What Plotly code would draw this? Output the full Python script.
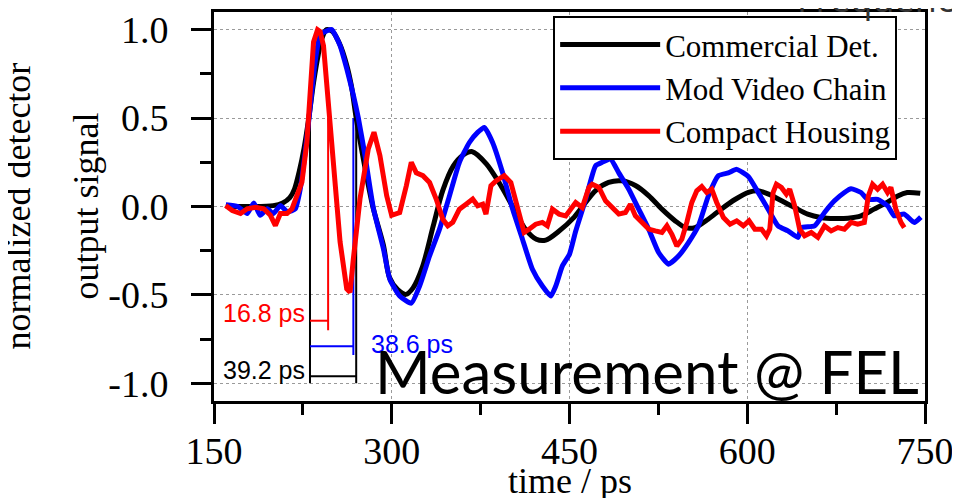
import plotly.graph_objects as go

# Commercial detector (black)
t_comm = [160, 180, 200, 208, 214, 218, 222, 226, 230, 234, 238, 241, 245, 250, 256, 262, 266, 270,
          276, 284, 293, 298, 305, 312, 318, 326, 335, 343, 352, 360, 368, 380, 391, 402, 413, 422,
          430, 441, 454, 461, 472, 483, 494, 506, 517, 528, 539, 548, 556, 567, 578, 590, 601, 609,
          618, 629, 640, 651, 662, 674, 685, 696, 707, 718, 727, 735, 746]
s_comm = [0.0, 0.0, 0.005, 0.02, 0.05, 0.1, 0.2, 0.33, 0.5, 0.7, 0.86, 0.95, 1.0, 0.99, 0.92, 0.8, 0.68, 0.5,
          0.27, 0.0, -0.22, -0.4, -0.47, -0.497, -0.46, -0.34, -0.11, 0.09, 0.23, 0.29, 0.31, 0.24, 0.13, 0.0, -0.13, -0.185,
          -0.19, -0.14, -0.06, 0.0, 0.09, 0.136, 0.145, 0.117, 0.06, -0.015, -0.08, -0.12, -0.119, -0.072, -0.015, 0.041, 0.08, 0.089,
          0.07, 0.032, -0.006, -0.043, -0.062, -0.068, -0.066, -0.053, -0.015, 0.023, 0.06, 0.079, 0.075]

# Modified video chain (blue)
t_mod = [160, 170, 178, 183.6, 189, 195, 200, 206, 212, 218.6, 222.8, 227, 231, 235.4, 239.6, 244, 249.4, 253,
         256.4, 262, 267.6, 271.8, 277.4, 284.5, 293, 298.3, 306.7, 316.5, 323.5, 331.9, 340.3, 348.7, 357.1,
         365.5, 372.5, 378.1, 385.1, 393.5, 402, 410.3, 418.7, 427.1, 434.2, 438.4, 444, 450, 455.2, 463.6,
         472, 477.6, 484.6, 491.6, 500, 508.4, 516.8, 525.2, 533.6, 542, 550.4, 558.8, 567.2, 575.6, 584,
         591.1, 600.9, 609.2, 617.6, 626, 634.4, 642.8, 645.6, 656.8, 665.2, 673.6, 682, 687.6, 696, 701.6,
         710, 718.4, 724, 732.5, 740.9, 746.5]
s_mod = [0.01, 0.0, -0.04, 0.02, -0.05, -0.013, -0.04, 0.005, -0.03, -0.013, 0.1, 0.31, 0.55, 0.82, 0.97, 0.99, 1.0, 0.96,
         0.91, 0.78, 0.63, 0.5, 0.29, -0.01, -0.24, -0.41, -0.506, -0.547, -0.45, -0.28, -0.128, 0.06, 0.25,
         0.362, 0.419, 0.447, 0.362, 0.192, -0.015, -0.185, -0.355, -0.45, -0.506, -0.45, -0.336, -0.27, -0.14, 0.04,
         0.23, 0.25, 0.268, 0.19, 0.098, -0.015, -0.128, -0.26, -0.326, -0.28, -0.204, -0.109, 0.06, 0.174, 0.19,
         0.21, 0.17, 0.08, -0.015, -0.11, -0.138, -0.175, -0.12, -0.11, -0.034, 0.032, 0.079, 0.1, 0.079, 0.04,
         0.04, 0.004, -0.053, -0.043, -0.09, -0.06]

# Compact housing (red)
t_cmp = [159.8, 165.4, 172.4, 178, 185, 192, 197.6, 201.8, 206, 211.6, 215.8, 220, 224.2, 228.4, 231.2, 234,
         237.4, 239.5, 242.4, 246.6, 250.8, 256.4, 262, 264.8, 267.6, 273.2, 280.2, 285, 290, 295.7, 299.9,
         306.7, 312.3, 316.5, 320.7, 326.3, 331.9, 337.5, 343.1, 347.3, 351.5, 357.1, 362.7, 368.3, 372.5,
         376.7, 379.5, 383.7, 387.9, 394.9, 400.5, 406.1, 411.7, 415.9, 421.5, 427.1, 431.3, 435.6, 441.2,
         446.8, 451, 455.2, 460.8, 466.4, 469.2, 474.8, 480.4, 486, 491.6, 497.2, 501.4, 505.6, 511.2, 516.8,
         522.4, 528, 532.2, 536.4, 540.6, 544.8, 549, 553.2, 557.4, 561.6, 565.8, 570, 574.2, 579.9, 585.5,
         591.1, 596.7, 601.5, 606.4, 612, 616.2, 619, 621.8, 624.6, 628.8, 633, 635.8, 640, 644.2, 648.4,
         654, 659.6, 665.2, 670.8, 676.4, 682, 687.6, 693.2, 698.8, 702.2, 705.8, 710, 714.2, 718.4, 721.2,
         725.4, 729.7, 732.5]
s_cmp = [0.006, -0.023, -0.04, -0.013, -0.004, -0.013, -0.05, -0.108, -0.04, -0.04, -0.013, 0.062, 0.138, 0.364, 0.647, 0.93,
         1.0, 0.99, 0.91, 0.553, 0.213, -0.2, -0.466, -0.485, -0.296, 0.043, 0.326, 0.42, 0.289, 0.062, -0.05,
         -0.034, 0.117, 0.25, 0.19, 0.174, 0.136, 0.042, -0.072, -0.109, -0.09, -0.015, 0.013, 0.042, 0.004,
         0.013, -0.043, 0.117, 0.145, 0.174, 0.136, -0.015, -0.147, -0.128, -0.1, -0.09, -0.109, -0.015, -0.043,
         -0.053, -0.02, 0.023, -0.006, 0.108, 0.126, 0.108, 0.032, -0.006, -0.043, -0.034, 0.013, -0.053, -0.09, -0.128,
         -0.138, -0.147, -0.109, -0.157, -0.223, -0.185, -0.09, 0.023, 0.089, 0.113, 0.079, 0.098, 0.023, -0.062, -0.1,
         -0.081, -0.109, -0.081, -0.128, -0.128, -0.166, -0.128, 0.079, 0.126, 0.108, 0.07, 0.098, 0.004, -0.128, -0.166,
         -0.147, -0.175, -0.11, -0.138, -0.119, -0.128, -0.09, -0.1, -0.09, 0.06, 0.126, 0.098, 0.126, 0.079, 0.108,
         -0.015, -0.09, -0.119]

# pulse width markers (FWHM)
fwhm_labels = ['39.2 ps', '38.6 ps', '16.8 ps']
fwhm_left = 231.0
fwhm_right = [270.0, 267.6, 246.3]
fwhm_level = [-0.96, -0.79, -0.646]
fwhm_drop = [-1.0, -0.84, -0.70]
half_max = 0.5

x_ticks = [150, 300, 450, 600, 750]
y_ticks = [-1.0, -0.5, 0.0, 0.5, 1.0]
y_tick_labels = ['-1.0', '-0.5', '0.0', '0.5', '1.0']

SERIF = 'Liberation Serif'
SANS = 'Liberation Sans'

fig = go.Figure()

# bracket lines for the pulse widths
# black bracket: two verticals + horizontal
fig.add_trace(go.Scatter(
    x=[fwhm_left, fwhm_left, None, fwhm_right[0], fwhm_right[0], None, fwhm_left, fwhm_right[0]],
    y=[half_max, fwhm_drop[0], None, half_max, fwhm_drop[0], None, fwhm_level[0], fwhm_level[0]],
    mode='lines', line=dict(color='black', width=2), showlegend=False, hoverinfo='skip'))
fig.add_trace(go.Scatter(
    x=[fwhm_right[1], fwhm_right[1], None, fwhm_left, fwhm_right[1]],
    y=[half_max, fwhm_drop[1], None, fwhm_level[1], fwhm_level[1]],
    mode='lines', line=dict(color='#0000ff', width=2), showlegend=False, hoverinfo='skip'))
fig.add_trace(go.Scatter(
    x=[fwhm_right[2], fwhm_right[2], None, fwhm_left, fwhm_right[2]],
    y=[half_max, fwhm_drop[2], None, fwhm_level[2], fwhm_level[2]],
    mode='lines', line=dict(color='#ff0000', width=2), showlegend=False, hoverinfo='skip'))

fig.add_trace(go.Scatter(x=t_comm, y=s_comm, mode='lines', name='Commercial Det.',
                         line=dict(color='black', width=5, shape='spline', smoothing=0.8)))
fig.add_trace(go.Scatter(x=t_mod, y=s_mod, mode='lines', name='Mod Video Chain',
                         line=dict(color='#0000ff', width=5, shape='spline', smoothing=0.5)))
fig.add_trace(go.Scatter(x=t_cmp, y=s_cmp, mode='lines', name='Compact Housing',
                         line=dict(color='#ff0000', width=5)))

axis_common = dict(
    showline=True, linewidth=3, linecolor='black', mirror=True,
    ticks='outside', ticklen=20, tickwidth=3, tickcolor='black',
    showgrid=True, gridcolor='#9a9a9a', gridwidth=1, griddash='dot',
    zeroline=False, automargin=False,
    tickfont=dict(family=SERIF, size=38, color='black'),
)

fig.update_xaxes(
    range=[150, 750], tickmode='array', tickvals=x_ticks,
    minor=dict(ticks='outside', ticklen=11, tickwidth=3, tickcolor='black', dtick=75, tick0=150, showgrid=False),
    ticklabelstandoff=-6,
    **axis_common)
fig.update_yaxes(
    range=[-1.1, 1.1], tickmode='array', tickvals=y_ticks, ticktext=y_tick_labels,
    minor=dict(ticks='outside', ticklen=11, tickwidth=3, tickcolor='black', dtick=0.25, tick0=0, showgrid=False),
    ticklabelstandoff=15,
    **axis_common)

# axis titles
fig.add_annotation(text='time / ps', xref='paper', yref='paper', x=0.5, y=0,
                   xanchor='center', yanchor='middle', yshift=-80, showarrow=False,
                   font=dict(family=SERIF, size=36, color='black'))
fig.add_annotation(text='normalized detector', xref='paper', yref='paper', x=0, y=0.5,
                   xanchor='center', yanchor='middle', xshift=-197, textangle=-90, showarrow=False,
                   font=dict(family=SERIF, size=36, color='black'))
fig.add_annotation(text='output signal', xref='paper', yref='paper', x=0, y=0.5,
                   xanchor='center', yanchor='middle', xshift=-129, textangle=-90, showarrow=False,
                   font=dict(family=SERIF, size=36, color='black'))

# pulse width labels
fig.add_annotation(text=fwhm_labels[2], x=fwhm_left - 2.5, y=-0.60, xanchor='right', showarrow=False,
                   font=dict(family=SANS, size=25, color='#ff0000'))
fig.add_annotation(text=fwhm_labels[1], x=fwhm_right[1] + 13, y=-0.78, xanchor='left', showarrow=False,
                   font=dict(family=SANS, size=25, color='#0000ff'))
fig.add_annotation(text=fwhm_labels[0], x=fwhm_left - 2.5, y=-0.925, xanchor='right', showarrow=False,
                   font=dict(family=SANS, size=25, color='black'))

fig.add_annotation(text='Measurement @ FEL', xref='paper', yref='paper', x=1, y=0,
                   xanchor='right', yanchor='bottom', xshift=-4, yshift=-8, showarrow=False,
                   font=dict(family='Lato', size=60, color='black'))

# heading of the slide, mostly cut off by the top edge
fig.add_annotation(text='Frequency', xref='paper', yref='paper', x=1, y=1,
                   xanchor='left', yanchor='bottom', xshift=-130, yshift=-13, showarrow=False,
                   font=dict(family='Open Sans', size=36, color='#333333'))

# the page body adds an 8 px offset, so the figure is 8 px smaller than the window
fig.update_layout(
    width=952, height=490,
    margin=dict(l=206, r=35, t=4, b=97),
    paper_bgcolor='white', plot_bgcolor='white',
    legend=dict(x=0.477, y=0.99, xanchor='left', yanchor='top',
                bgcolor='white', bordercolor='black', borderwidth=2,
                font=dict(family=SERIF, size=31, color='black'),
                itemwidth=100, tracegroupgap=0),
)

fig.write_html('out.html')
